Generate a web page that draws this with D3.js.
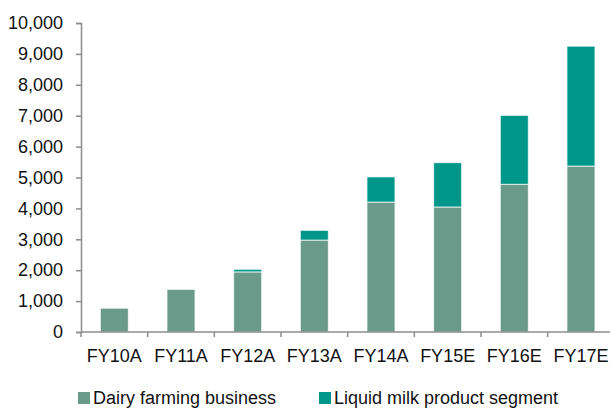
<!DOCTYPE html>
<html>
<head>
<meta charset="utf-8">
<script src="https://cdn.jsdelivr.net/npm/d3@7/dist/d3.min.js"></script>
<style>
  html, body { margin: 0; padding: 0; background: #fff; }
  svg { display: block; font-family: "Liberation Sans", Arial, sans-serif; }
</style>
</head>
<body>
<svg id="chart" width="610" height="409"></svg>
<script>
// Fiscal years shown on the x axis
const years = ["FY10A", "FY11A", "FY12A", "FY13A", "FY14A", "FY15E", "FY16E", "FY17E"];
// Revenue by segment (stacked)
const dairyFarming = [770, 1380, 1945, 2975, 4205, 4045, 4780, 5370];
const liquidMilk   = [0, 0, 85, 315, 815, 1435, 2230, 3880];
// Series names and colours
const seriesNames = ["Dairy farming business", "Liquid milk product segment"];
const seriesColors = ["#6a9a8a", "#00978a"];
// Y-axis ticks
const yTicks = [0, 1000, 2000, 3000, 4000, 5000, 6000, 7000, 8000, 9000, 10000];

const rows = years.map((y, i) => ({ year: y, dairy: dairyFarming[i], liquid: liquidMilk[i] }));
const stack = d3.stack().keys(["dairy", "liquid"])(rows);

const svg = d3.select("#chart");
const plotLeft = 81, plotRight = 614.3, plotTop = 23, plotBottom = 332;

const x = d3.scaleBand().domain(years).range([plotLeft, plotRight]).paddingInner(0.58).paddingOuter(0.29);
const y = d3.scaleLinear().domain([0, 10000]).range([plotBottom, plotTop]);

// Bars
svg.append("g").selectAll("g").data(stack).join("g")
  .attr("fill", (d, i) => seriesColors[i])
  .selectAll("rect").data(d => d).join("rect")
  .attr("x", d => x(d.data.year))
  .attr("width", x.bandwidth())
  .attr("y", d => y(d[1]))
  .attr("height", d => Math.max(0, y(d[0]) - y(d[1])))
  .attr("stroke", "rgba(255,255,255,0.75)")
  .attr("stroke-width", 1);

const axisColor = "#8c8c8c";

// Y axis
const yAxis = svg.append("g").attr("transform", `translate(${plotLeft},0)`)
  .call(d3.axisLeft(y).tickValues(yTicks).tickSize(5).tickPadding(13).tickFormat(d3.format(",")));
yAxis.select(".domain").attr("stroke", axisColor).attr("stroke-width", 1.5);
yAxis.selectAll(".tick line").attr("stroke", axisColor).attr("stroke-width", 1.5);
yAxis.selectAll(".tick text").attr("fill", "#111").style("font-size", "18px")
  .style("font-family", "'Liberation Sans', Arial, sans-serif");

// X axis with ticks on band boundaries
const xAxisG = svg.append("g").attr("transform", `translate(0,${plotBottom})`);
xAxisG.append("line").attr("x1", plotLeft).attr("x2", plotRight).attr("stroke", axisColor).attr("stroke-width", 1.5);
const step = x.step();
const boundaries = d3.range(years.length + 1).map(i => plotLeft + i * step);
xAxisG.selectAll(".xt").data(boundaries).join("line")
  .attr("x1", d => d).attr("x2", d => d).attr("y1", 0).attr("y2", 5)
  .attr("stroke", axisColor).attr("stroke-width", 1.5);
xAxisG.selectAll(".xl").data(years).join("text")
  .attr("x", d => x(d) + x.bandwidth() / 2)
  .attr("y", 30)
  .attr("text-anchor", "middle")
  .attr("fill", "#111")
  .style("font-size", "18px")
  .text(d => d);

// Legend
const legendX = [78, 319];
const lg = svg.append("g").selectAll("g").data(seriesNames).join("g")
  .attr("transform", (d, i) => `translate(${legendX[i]},392)`);
lg.append("rect").attr("width", 12).attr("height", 12).attr("fill", (d, i) => seriesColors[i]);
lg.append("text").attr("x", 15).attr("y", 12).attr("fill", "#111").style("font-size", "18px").text(d => d);
</script>
</body>
</html>
